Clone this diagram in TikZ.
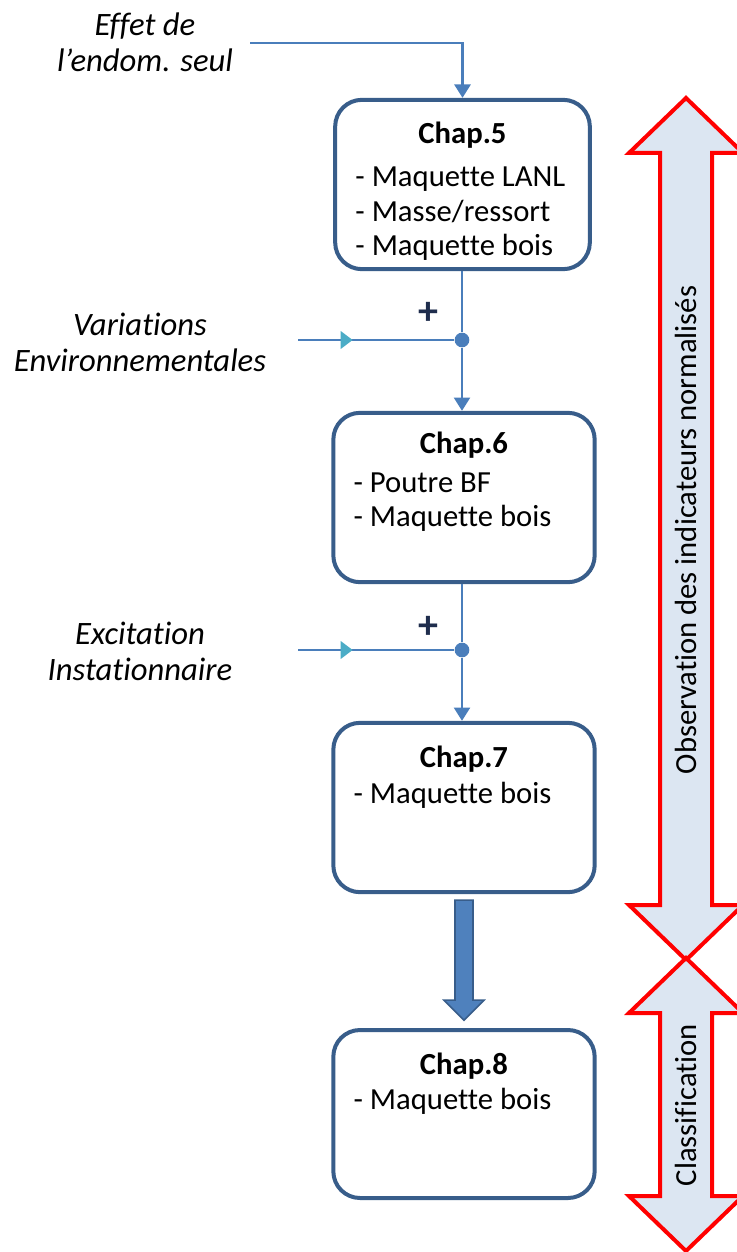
\documentclass[tikz,border=0pt]{standalone}
\usepackage{fontspec}
\setmainfont{Carlito}[Ligatures={TeX,NoCommon}]
\usetikzlibrary{arrows.meta, positioning, calc, decorations.markings}
\definecolor{boxblue}{HTML}{385D8A}
\definecolor{lineblue}{HTML}{4A7EBB}
\definecolor{tipcyan}{HTML}{4BACC6}
\definecolor{fatblue}{HTML}{4F81BD}
\definecolor{bandfill}{HTML}{DCE6F2}
\definecolor{plusnavy}{HTML}{1F2D4D}
\tikzset{chapbox/.style={rectangle,draw=boxblue,line width=3pt,rounded corners=20pt,fill=white},
chaphead/.style={font=\fontsize{23}{26}\selectfont\bfseries,inner sep=0pt},
chaplist/.style={align=left,inner sep=0pt},
sidelabel/.style={align=center,font=\fontsize{24.5}{27}\selectfont\itshape,inner sep=0pt},
link/.style={draw=lineblue,line width=2pt},
flow/.style={link,-{Triangle[width=12pt,length=10pt]}},
feed/.style={link,postaction={decorate},decoration={markings,mark=at position 41pt with {\arrow[tipcyan]{Triangle[width=13pt,length=9pt]}}}},
junction/.style={circle,fill=lineblue,inner sep=0pt,minimum size=11pt},
plus/.style={font=\fontsize{30}{30}\selectfont\bfseries,text=plusnavy,inner sep=0pt},
band/.style={draw=red,fill=bandfill,line width=3pt,line join=miter},
fatarrow/.style={draw=boxblue,fill=fatblue,line width=1.2pt}}

\begin{document}
\begin{tikzpicture}[x=0.75pt,y=-0.75pt,font=\fontsize{23}{26}\selectfont]
\useasboundingbox (0,0) rectangle (737,1252);
% chapters
\node[chapbox,minimum width=191pt,minimum height=127pt] (c5) at (462.5,184.5) {};
\node[chapbox,minimum width=196pt,minimum height=127pt] (c6) at (464,497.5) {};
\node[chapbox,minimum width=196pt,minimum height=127pt] (c7) at (464,807.5) {};
\node[chapbox,minimum width=196pt,minimum height=126pt] (c8) at (464,1114) {};
\node[chaphead,anchor=base] (c5h) at ($(c5.north)+(0,46)$) {Chap.5};
\node[chaplist,anchor=base west] (c5l) at ($(c5.north west)+(22,158)$) {- Maquette LANL\\- Masse/ressort\\- Maquette bois};
\node[chaphead,anchor=base] (c6h) at ($(c6.north)+(0,43)$) {Chap.6};
\node[chaplist,anchor=base west] (c6l) at ($(c6.north west)+(22,116)$) {- Poutre BF\\- Maquette bois};
\node[chaphead,anchor=base] (c7h) at ($(c7.north)+(0,47)$) {Chap.7};
\node[chaplist,anchor=base west] (c7l) at ($(c7.north west)+(22,83)$) {- Maquette bois};
\node[chaphead,anchor=base] (c8h) at ($(c8.north)+(0,46)$) {Chap.8};
\node[chaplist,anchor=base west] (c8l) at ($(c8.north west)+(22,81)$) {- Maquette bois};
% inputs
\node[sidelabel] (effet) at (145,42) {Effet de\\l’endom. seul};
\node[sidelabel] (envir) at (140,342) {Variations\\Environnementales};
\node[sidelabel] (excit) at (140,651) {Excitation\\Instationnaire};
\coordinate (e5) at (250,43);
\coordinate (e6) at (298,340);
\coordinate (e7) at (298,650);
\node[junction] (j6) at (462,340) {};
\node[junction] (j7) at (462,650) {};
\node[plus] (p6) at (428,313) {+};
\node[plus] (p7) at (428,627) {+};
\draw[flow] (e5) -| (c5.north);
\draw[link] (j6 |- c5.south) -- (j6);
\draw[flow] (j6) -- (j6 |- c6.north);
\draw[feed] (e6) -- (j6);
\draw[link] (j7 |- c6.south) -- (j7);
\draw[flow] (j7) -- (j7 |- c7.north);
\draw[feed] (e7) -- (j7);
\draw[fatarrow] ($(c7.south)+(-9,6)$) -- ++(18,0) -- ++(0,100) -- ++(11,0) -- ++(-20,20) -- ++(-20,-20) -- ++(11,0) -- cycle;
% phases
\draw[band] (686,98) -- (743,153) -- (712,153) -- (712,905) -- (743,905) -- (686,960) -- (629,905) -- (660,905) -- (660,153) -- (629,153) -- cycle;
\draw[band] (686,958) -- (743,1013) -- (712,1013) -- (712,1196) -- (743,1196) -- (686,1251) -- (629,1196) -- (660,1196) -- (660,1013) -- (629,1013) -- cycle;
\node[rotate=90] (obs) at (686,530) {Observation des indicateurs normalisés};
\node[rotate=90] (cls) at (686,1105) {Classification};
\end{tikzpicture}
\end{document}
